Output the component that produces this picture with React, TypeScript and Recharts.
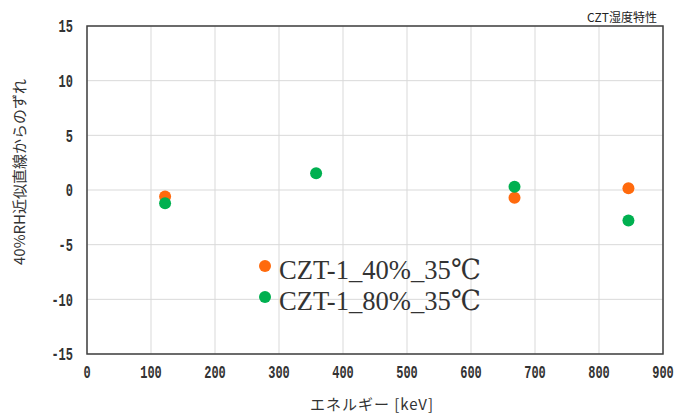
import { CartesianGrid, Legend, ReferenceArea, Scatter, ScatterChart, XAxis, YAxis } from "recharts";

// energies (keV) and deviations from the 40%RH fit line
const energy40 = [122, 668, 846];
const dev40 = [-0.6, -0.7, 0.16];
const energy80 = [122, 358, 668, 846];
const dev80 = [-1.22, 1.53, 0.3, -2.8];

const xTicks = [0, 100, 200, 300, 400, 500, 600, 700, 800, 900];
const yTicks = [-15, -10, -5, 0, 5, 10, 15];

const name40 = "CZT-1_40%_35℃";
const name80 = "CZT-1_80%_35℃";
const ORANGE = "#ff6a0d";
const GREEN = "#00b050";

const data40 = energy40.map((e, i) => ({ x: e, y: dev40[i] }));
const data80 = energy80.map((e, i) => ({ x: e, y: dev80[i] }));

const tickFont = "'Liberation Mono', 'DejaVu Sans Mono', monospace";
const jpFont = "'Noto Sans CJK JP', 'Noto Sans', sans-serif";

const Dot = (props: any) => <circle cx={props.cx} cy={props.cy} r={6} fill={props.fill} />;

const XTick = (props: any) => (
  <g transform={`translate(${props.x},378) scale(1,1.5)`}>
    <text x={0} y={0} textAnchor="middle" fontFamily={tickFont} fontSize={12} fontWeight="bold" fill="#333">
      {props.payload.value}
    </text>
  </g>
);

const YTick = (props: any) => (
  <g transform={`translate(73,${props.y}) scale(1,1.5)`}>
    <text x={0} y={0} dy="0.36em" textAnchor="end" fontFamily={tickFont} fontSize={12} fontWeight="bold" fill="#333">
      {props.payload.value}
    </text>
  </g>
);

const LegendBox = () => (
  <div style={{ fontFamily: "'Liberation Serif', 'DejaVu Serif', serif", fontSize: 28, color: "#333", lineHeight: "31px" }}>
    {[
      { n: name40, c: ORANGE },
      { n: name80, c: GREEN },
    ].map((it) => (
      <div key={it.n} style={{ display: "flex", alignItems: "center", whiteSpace: "nowrap" }}>
        <span style={{ width: 12, height: 12, borderRadius: 6, background: it.c, marginRight: 8, marginTop: -8 }} />
        <span style={{ display: "inline-block", transform: "scaleX(0.95)", transformOrigin: "left center" }}>{it.n}</span>
      </div>
    ))}
  </div>
);

export default function App() {
  return (
    <div style={{ position: "absolute", left: 0, top: 0, width: 676, height: 419, background: "white" }}>
      <div
        style={{
          position: "absolute",
          right: 19,
          top: 8,
          fontFamily: jpFont,
          fontSize: 12,
          color: "#222",
        }}
      >
        CZT湿度特性
      </div>
      <ScatterChart width={676} height={419} margin={{ top: 26, right: 13, bottom: 20, left: 0 }}>
        <CartesianGrid stroke="#d9d9d9" strokeWidth={1} horizontalValues={yTicks} verticalValues={xTicks} />
        <XAxis
          type="number"
          dataKey="x"
          domain={[0, 900]}
          ticks={xTicks}
          height={45}
          axisLine={false}
          tickLine={false}
          tick={<XTick />}
          interval={0}
          label={{
            content: () => (
              <text x={372} y={410} textAnchor="middle" fontFamily={jpFont} fontSize={15} letterSpacing={1} fill="#333">
                エネルギー [keV]
              </text>
            ),
          }}
        />
        <YAxis
          type="number"
          dataKey="y"
          domain={[-15, 15]}
          ticks={yTicks}
          width={87}
          axisLine={false}
          tickLine={false}
          tick={<YTick />}
          interval={0}
          label={{
            content: () => (
              <text
                x={18}
                y={172}
                transform="rotate(-90 18 172)"
                textAnchor="middle"
                dominantBaseline="central"
                fontFamily={jpFont}
                fontSize={15}
                fill="#333"
              >
                40%RH近似直線からのずれ
              </text>
            ),
          }}
        />
        <ReferenceArea x1={0} x2={900} y1={-15} y2={15} fill="none" stroke="#404040" strokeWidth={1.5} strokeOpacity={1} />
        <Legend
          layout="horizontal"
          verticalAlign="middle"
          align="center"
          wrapperStyle={{ left: 259, top: 254, width: 240 }}
          content={<LegendBox />}
        />
        <Scatter name={name40} data={data40} fill={ORANGE} shape={<Dot />} isAnimationActive={false} />
        <Scatter name={name80} data={data80} fill={GREEN} shape={<Dot />} isAnimationActive={false} />
      </ScatterChart>
    </div>
  );
}
